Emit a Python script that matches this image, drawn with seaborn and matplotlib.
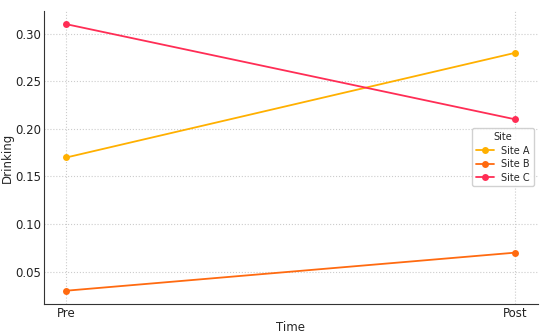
import pandas as pd
import matplotlib
matplotlib.use('Agg')
import matplotlib.pyplot as plt
import seaborn as sns

time = ['Pre', 'Post']
site_a = [0.17, 0.28]
site_b = [0.03, 0.07]
site_c = [0.31, 0.21]
sites = ['Site A', 'Site B', 'Site C']

df = pd.DataFrame({
    'Time': time * 3,
    'Drinking': site_a + site_b + site_c,
    'Site': [s for s in sites for _ in time],
})

sns.set_style('white')
plt.rcParams['font.family'] = ['DejaVu Sans']

palette = {'Site A': '#FFB000', 'Site B': '#FF6A10', 'Site C': '#FF2D55'}

fig = plt.figure(figsize=(5.5, 3.35), dpi=100)
ax = fig.add_axes([0.08, 0.0925, 0.898, 0.875])
sns.lineplot(data=df, x='Time', y='Drinking', hue='Site', palette=palette,
             marker='o', markersize=5, markeredgewidth=0, linewidth=1.3, ax=ax, sort=False)
ax.grid(True, linestyle=':', color='#cccccc', linewidth=0.8)
ax.set_yticks([0.05, 0.10, 0.15, 0.20, 0.25, 0.30])
ax.set_yticklabels(['0.05', '0.10', '0.15', '0.20', '0.25', '0.30'])
ax.tick_params(direction='in', length=3, pad=2, labelsize=8.5, colors='#222222')
sns.despine(ax=ax)
ax.spines['left'].set_color('#333333')
ax.spines['bottom'].set_color('#333333')
ax.set_xlabel('Time', fontsize=8.5, labelpad=1)
ax.set_ylabel('Drinking', fontsize=8.5, labelpad=1)
ax.margins(x=0.05, y=0.05)
ax.legend(title='Site', loc='center right', fontsize=7, title_fontsize=7,
          framealpha=0.9, handlelength=1.8, labelspacing=0.35, borderaxespad=0.4)
fig.savefig('out.png', dpi=100)
